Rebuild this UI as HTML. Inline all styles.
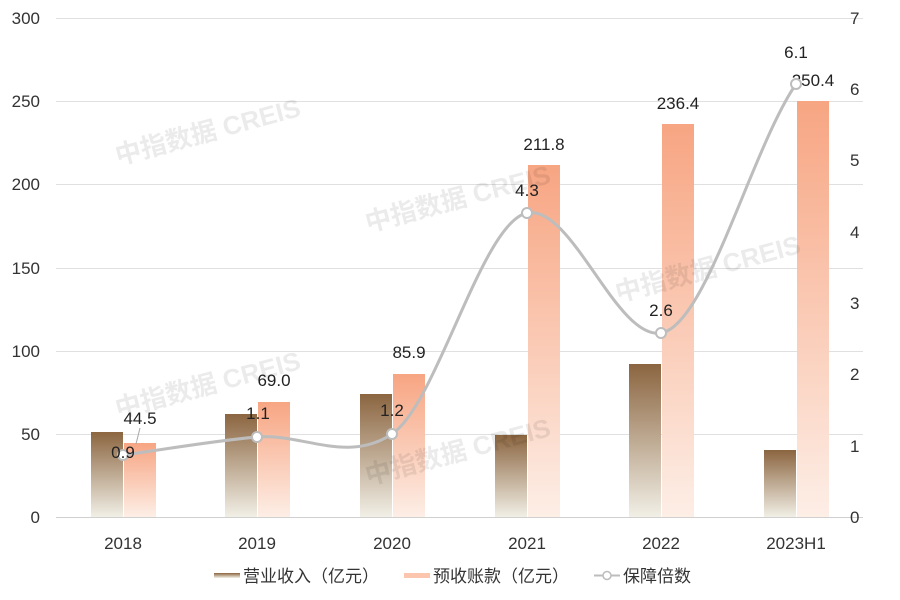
<!DOCTYPE html>
<html><head><meta charset="utf-8"><style>
html,body{margin:0;padding:0;background:#fff}
svg{display:block}
text{font-family:"Liberation Sans","Noto Sans CJK SC",sans-serif}
</style></head><body>
<svg width="900" height="600" viewBox="0 0 900 600" xmlns="http://www.w3.org/2000/svg">
<defs>
<linearGradient id="gb" x1="0" y1="0" x2="0" y2="1"><stop offset="0" stop-color="#8b6540"/><stop offset="1" stop-color="#f1efe6"/></linearGradient>
<linearGradient id="gp" x1="0" y1="0" x2="0" y2="1"><stop offset="0" stop-color="#f7a582"/><stop offset="1" stop-color="#fdeee6"/></linearGradient>
</defs>
<g stroke="#e0e0e0" stroke-width="1">
<line x1="56" x2="863" y1="18.5" y2="18.5"/><line x1="56" x2="863" y1="101.5" y2="101.5"/>
<line x1="56" x2="863" y1="184.5" y2="184.5"/><line x1="56" x2="863" y1="268.5" y2="268.5"/>
<line x1="56" x2="863" y1="351.5" y2="351.5"/><line x1="56" x2="863" y1="434.5" y2="434.5"/>
<line x1="56" x2="863" y1="517.5" y2="517.5" stroke="#d0d0d0"/>
</g>
<g font-size="17" fill="#333" text-anchor="end">
<text x="40" y="24">300</text><text x="40" y="107">250</text><text x="40" y="190">200</text>
<text x="40" y="274">150</text><text x="40" y="357">100</text><text x="40" y="440">50</text><text x="40" y="523">0</text>
</g>
<g font-size="17" fill="#333" text-anchor="start">
<text x="850" y="24">7</text><text x="850" y="95">6</text><text x="850" y="166">5</text><text x="850" y="238">4</text>
<text x="850" y="309">3</text><text x="850" y="380">2</text><text x="850" y="452">1</text><text x="850" y="523">0</text>
</g>
<g font-size="17" fill="#333" text-anchor="middle">
<text x="123" y="549">2018</text><text x="257" y="549">2019</text><text x="392" y="549">2020</text>
<text x="527" y="549">2021</text><text x="661" y="549">2022</text><text x="796" y="549">2023H1</text>
</g>
<!-- bars -->
<g fill="url(#gb)">
<rect x="91" y="432" width="32" height="85"/>
<rect x="225" y="414" width="32" height="103"/>
<rect x="360" y="394" width="32" height="123"/>
<rect x="495" y="435" width="32" height="82"/>
<rect x="629" y="364" width="32" height="153"/>
<rect x="764" y="450" width="32" height="67"/>
</g>
<g fill="url(#gp)">
<rect x="124" y="443" width="32" height="74"/>
<rect x="258" y="402" width="32" height="115"/>
<rect x="393" y="374" width="32" height="143"/>
<rect x="528" y="165" width="32" height="352"/>
<rect x="662" y="124" width="32" height="393"/>
<rect x="797" y="101" width="32" height="416"/>
</g>
<!-- watermarks -->
<g font-size="26" font-weight="bold" fill="#000" fill-opacity="0.08">
<text transform="translate(118,165) rotate(-15)">中指数据 CREIS</text>
<text transform="translate(368,232) rotate(-15)">中指数据 CREIS</text>
<text transform="translate(618,302) rotate(-15)">中指数据 CREIS</text>
<text transform="translate(118,418) rotate(-15)">中指数据 CREIS</text>
<text transform="translate(368,485) rotate(-15)">中指数据 CREIS</text>
</g>
<g font-size="17" fill="#222" text-anchor="middle">
<text x="140" y="424">44.5</text><text x="274" y="386">69.0</text><text x="409" y="358">85.9</text>
<text x="544" y="150">211.8</text><text x="678" y="109">236.4</text><text x="813" y="86">250.4</text>
</g>
<line x1="140" y1="428" x2="136" y2="444" stroke="#aaa"/>
<!-- line -->
<path d="M123,455 C168,449 212,441 257,437 C302,433 347,464 392,434 C437,404 482,222 527,213 C572,204 616,340 661,333 C706,326 751,150 796,84" fill="none" stroke="#bdbdbd" stroke-width="3"/>
<g fill="#fff" stroke="#bdbdbd" stroke-width="2">
<circle cx="123" cy="455" r="5"/><circle cx="257" cy="437" r="5"/><circle cx="392" cy="434" r="5"/>
<circle cx="527" cy="213" r="5"/><circle cx="661" cy="333" r="5"/><circle cx="796" cy="84" r="5"/>
</g>
<g font-size="17" fill="#222" text-anchor="middle">
<text x="123" y="458">0.9</text><text x="258" y="419">1.1</text><text x="392" y="416">1.2</text>
<text x="527" y="196">4.3</text><text x="661" y="316">2.6</text><text x="796" y="58">6.1</text>
</g>
<!-- legend -->
<rect x="214" y="573" width="26" height="5" fill="url(#gb)"/>
<text x="243" y="582" font-size="17" fill="#333">营业收入（亿元）</text>
<rect x="404" y="573" width="26" height="5" fill="#fbc6ad"/>
<text x="433" y="582" font-size="17" fill="#333">预收账款（亿元）</text>
<line x1="594" y1="575.5" x2="620" y2="575.5" stroke="#bdbdbd" stroke-width="2"/>
<circle cx="607" cy="575.5" r="4" fill="#fff" stroke="#bdbdbd" stroke-width="1.5"/>
<text x="623" y="582" font-size="17" fill="#333">保障倍数</text>
</svg>
</body></html>
